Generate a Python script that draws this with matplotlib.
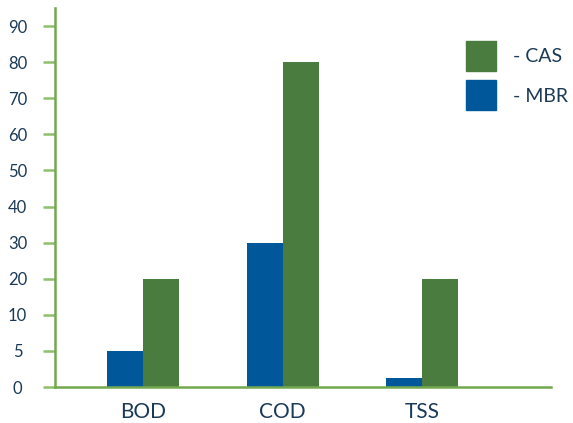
import numpy as np
import matplotlib.pyplot as plt
from matplotlib.patches import Patch

categories = ["BOD", "COD", "TSS"]
mbr = [5, 30, 1.3]
cas = [20, 80, 20]
yticks = [0, 5, 10, 20, 30, 40, 50, 60, 70, 80, 90]

green = "#4a7c3f"
blue = "#00589b"
axis_green = "#72a84e"
tick_green = "#8dbf6c"
text_col = "#1b3a57"

plt.rcParams["font.family"] = ["Lato", "DejaVu Sans"]

# uneven value axis: 0-5-10 then steps of 10, all ticks evenly spaced
vals = np.array([0, 5, 10, 20, 30, 40, 50, 60, 70, 80, 90, 100], dtype=float)
pos = np.arange(len(vals), dtype=float)
def fwd(y):
    return np.interp(y, vals, pos)
def inv(p):
    return np.interp(p, pos, vals)

fig = plt.figure(figsize=(5.73, 4.23), dpi=100)
ax = fig.add_axes([55/573, 36/423, 518/573, 379/423])
ax.set_yscale("function", functions=(fwd, inv))

x = np.arange(len(categories))
w = 0.258
ax.bar(x - w/2, mbr, w, color=blue, label="- MBR")
ax.bar(x + w/2, cas, w, color=green, label="- CAS")

ax.set_xlim(-0.63, 3.08)
ax.set_ylim(0, 95)
ax.set_yticks(yticks)
ax.set_yticklabels([str(t) for t in yticks])
ax.set_xticks(x)
ax.set_xticklabels(categories)

for s in ["top", "right"]:
    ax.spines[s].set_visible(False)
ax.spines["left"].set_color(axis_green)
ax.spines["bottom"].set_color(axis_green)
ax.spines["left"].set_linewidth(1.8)
ax.spines["bottom"].set_linewidth(1.8)
ax.spines["bottom"].set_bounds(-0.63, 2.92)

ax.tick_params(axis="y", length=9, width=1.8, color=tick_green, pad=18,
               labelsize=12, labelcolor=text_col)
for lab in ax.get_yticklabels():
    lab.set_horizontalalignment("center")
ax.tick_params(axis="x", length=0, pad=11, labelsize=15, labelcolor=text_col)

handles = [Patch(color=green), Patch(color=blue)]
leg = ax.legend(handles, ["- CAS", "- MBR"], loc="upper left",
                bbox_to_anchor=(452/573, 1 - 27/423), bbox_transform=fig.transFigure,
                frameon=False, fontsize=14, handlelength=1.55, handleheight=2.0,
                handletextpad=0.9, labelspacing=0.5, borderpad=0.2)
for t in leg.get_texts():
    t.set_color(text_col)

fig.savefig("out.png", dpi=100)
